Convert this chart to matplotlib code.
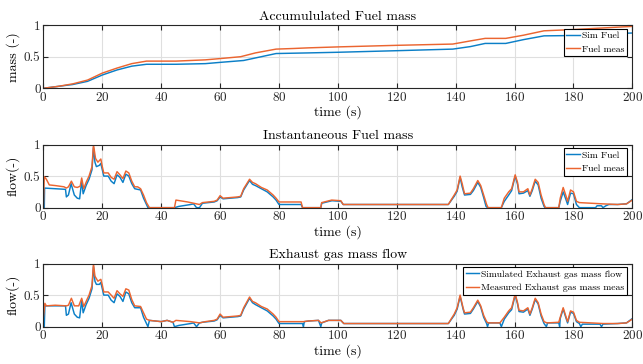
import matplotlib

matplotlib.use("Agg")
import matplotlib.pyplot as plt

# accumulated fuel mass (normalised)
acc_meas_t = [0, 5, 10, 15, 20, 25, 30, 35, 45, 55, 60, 67, 72, 79, 85, 90, 100, 120, 139,
              145, 150, 157, 163, 170, 180, 190, 200]
acc_meas = [0, 0.03, 0.07, 0.13, 0.24, 0.32, 0.39, 0.43, 0.43, 0.45, 0.47, 0.5, 0.56, 0.62,
            0.63, 0.64, 0.655, 0.68, 0.70, 0.75, 0.79, 0.79, 0.84, 0.91, 0.93, 0.955, 0.98]
acc_sim_t = [0, 5, 10, 15, 20, 25, 30, 35, 45, 55, 60, 68, 74, 79, 90, 100, 120, 139,
             145, 150, 157, 163, 170, 180, 190, 200]
acc_sim = [0, 0.03, 0.06, 0.11, 0.21, 0.29, 0.35, 0.38, 0.38, 0.39, 0.41, 0.44, 0.5, 0.55,
           0.56, 0.57, 0.595, 0.62, 0.66, 0.71, 0.71, 0.77, 0.83, 0.835, 0.86, 0.875]

# instantaneous fuel flow (normalised)
fuel_meas_t = [0, 0.3, 1, 2, 4, 7, 7.8, 8.5, 9.5, 10.5, 11.5, 12.5, 13, 13.7, 14.5, 15.5,
               16.5, 17, 17.7, 18.5, 19.5, 20, 20.5, 22, 23, 24, 25, 26, 27, 28, 29, 30,
               31, 32, 33, 34, 35, 36, 44.5, 45, 49, 53, 54, 58, 59, 60, 61, 66, 67, 68,
               70, 71, 72, 74, 76, 78, 79, 80, 87.5, 88, 94.2, 94.5, 97.9, 101, 101.8,
               137.5, 139.5, 140.5, 141.5, 142.2, 143, 145, 146, 147.5, 148.5, 149.5,
               150.5, 151, 155.5, 156.5, 158, 159, 160.2, 161, 161.5, 163, 164.5, 165.2,
               166, 167, 168, 169, 170, 170.5, 175, 175.5, 176.5, 177.5, 178, 179, 180,
               181, 182, 190, 195, 198, 200]
fuel_meas = [0, 0.49, 0.45, 0.36, 0.35, 0.33, 0.31, 0.33, 0.42, 0.33, 0.32, 0.34, 0.47,
             0.30, 0.40, 0.5, 0.65, 1.0, 0.78, 0.72, 0.77, 0.65, 0.55, 0.55, 0.48, 0.45,
             0.57, 0.52, 0.46, 0.58, 0.55, 0.42, 0.33, 0.33, 0.30, 0.20, 0.08, 0, 0, 0.12,
             0.09, 0.05, 0.08, 0.1, 0.12, 0.19, 0.15, 0.17, 0.18, 0.3, 0.45, 0.40, 0.38,
             0.32, 0.28, 0.2, 0.15, 0.09, 0.09, 0, 0, 0.08, 0.12, 0.11, 0.05, 0.05, 0.2,
             0.28, 0.5, 0.38, 0.22, 0.23, 0.3, 0.43, 0.35, 0.2, 0.05, 0, 0, 0.15, 0.25,
             0.3, 0.52, 0.4, 0.25, 0.25, 0.3, 0.2, 0.3, 0.45, 0.4, 0.2, 0.05, 0, 0, 0.15,
             0.32, 0.18, 0.1, 0.28, 0.25, 0.1, 0.08, 0.06, 0.05, 0.06, 0.12]
fuel_sim_t = [0, 0.3, 0.4, 4, 7.5, 7.8, 8.5, 9.4, 10.5, 11.5, 12.3, 13, 13.5, 14.5, 15.5,
              16.5, 17, 17.5, 18, 19, 19.5, 20, 20.5, 22, 23, 24, 25, 26, 27, 28, 29, 30,
              31, 33, 34, 35, 35.5, 44.5, 46, 50, 51, 52, 53, 54, 58, 59, 60, 61, 66, 67,
              68, 70, 71, 72, 74, 76, 78, 79, 80, 87.5, 88, 94.2, 94.5, 98, 101, 101.8,
              137.5, 139.5, 140.5, 141.5, 142.2, 143, 145, 146, 147.5, 148.5, 149.5,
              150.3, 150.8, 155.5, 156.5, 158, 159, 160.2, 161, 161.5, 163, 164.5, 165.2,
              166, 167, 168, 169, 170, 170.3, 175, 175.5, 176.5, 177.5, 178, 179, 180,
              181, 182, 187.5, 188, 189.5, 190, 191, 192, 195, 198, 200]
fuel_sim = [0, 0, 0.31, 0.3, 0.29, 0.17, 0.2, 0.38, 0.2, 0.15, 0.14, 0.42, 0.22, 0.35,
            0.45, 0.6, 0.95, 0.72, 0.65, 0.67, 0.7, 0.6, 0.5, 0.5, 0.42, 0.38, 0.52, 0.48,
            0.4, 0.53, 0.5, 0.38, 0.3, 0.28, 0.15, 0.05, 0, 0, 0.02, 0.05, 0.06, 0, 0,
            0.07, 0.09, 0.11, 0.17, 0.14, 0.16, 0.17, 0.28, 0.43, 0.37, 0.35, 0.3, 0.25,
            0.17, 0.12, 0.05, 0.05, 0, 0, 0.07, 0.11, 0.1, 0.05, 0.05, 0.18, 0.26, 0.48,
            0.33, 0.2, 0.21, 0.27, 0.4, 0.32, 0.16, 0.02, 0, 0, 0.1, 0.2, 0.27, 0.5, 0.37,
            0.22, 0.23, 0.27, 0.18, 0.27, 0.42, 0.36, 0.15, 0.02, 0, 0, 0.1, 0.25, 0.12,
            0.05, 0.23, 0.22, 0.05, 0, 0, 0.03, 0.03, 0, 0.03, 0.05, 0.05, 0.06, 0.13]

# exhaust gas mass flow (normalised)
exh_meas_t = [0, 0.5, 1, 4, 7.8, 8.5, 9.5, 10.5, 12, 13, 13.7, 14.5, 15.5, 16.5, 17,
              17.5, 18.5, 19.5, 20, 20.5, 22, 23, 24, 25, 26, 27, 28, 29, 30, 31, 33, 34,
              35, 36, 38, 40, 42, 44, 45, 50, 53, 55, 58, 59, 60, 61, 66, 67, 68, 70, 71,
              72, 74, 76, 78, 79, 80, 84, 88.3, 90, 93.4, 94.3, 96.8, 101, 102, 137.5,
              139.5, 140.5, 141.5, 142.5, 143, 145, 146, 147.5, 148.5, 149.5, 150.5, 151,
              155, 156.5, 158, 159, 160.2, 161, 161.5, 163, 164.5, 165.2, 166, 167, 168,
              169, 170, 171, 175, 175.5, 176.5, 177.5, 178, 179, 180, 181, 182, 190, 195,
              198, 200]
exh_meas = [0.15, 0.37, 0.33, 0.34, 0.33, 0.34, 0.45, 0.33, 0.33, 0.45, 0.32, 0.4, 0.5,
            0.65, 1.0, 0.8, 0.72, 0.75, 0.66, 0.55, 0.55, 0.5, 0.45, 0.57, 0.52, 0.48,
            0.6, 0.58, 0.43, 0.33, 0.32, 0.22, 0.12, 0.1, 0.09, 0.08, 0.1, 0.07, 0.1,
            0.08, 0.06, 0.08, 0.1, 0.12, 0.2, 0.15, 0.17, 0.18, 0.3, 0.47, 0.4, 0.38,
            0.32, 0.28, 0.2, 0.15, 0.08, 0.08, 0.08, 0.09, 0.1, 0.06, 0.1, 0.1, 0.05,
            0.05, 0.2, 0.3, 0.5, 0.3, 0.22, 0.23, 0.3, 0.42, 0.33, 0.18, 0.08, 0.06,
            0.06, 0.15, 0.25, 0.3, 0.52, 0.38, 0.26, 0.25, 0.3, 0.2, 0.3, 0.45, 0.38,
            0.2, 0.08, 0.06, 0.07, 0.15, 0.3, 0.15, 0.08, 0.25, 0.23, 0.1, 0.07, 0.05,
            0.05, 0.06, 0.12]
exh_sim_t = [0, 0.3, 0.5, 7.5, 7.8, 8.5, 9.4, 10.5, 11.5, 12.3, 13, 13.5, 14.5, 15.5,
             16.5, 17, 17.5, 18, 19, 19.5, 20, 20.5, 22, 23, 24, 25, 26, 27, 28, 29, 30,
             31, 33, 34, 35, 35.5, 36, 38, 40, 42, 44, 44.5, 46, 50, 51, 52, 53, 54, 58,
             59, 60, 61, 66, 67, 68, 70, 71, 72, 74, 76, 78, 79, 80, 88, 88.3, 88.6, 90,
             93.4, 94.2, 94.5, 96.8, 101, 102, 137.5, 139.5, 140.5, 141.5, 142.5, 143,
             145, 146, 147.5, 148.5, 149.5, 150.5, 150.8, 151.2, 155, 155.5, 156, 156.5,
             158, 159, 160.2, 161, 161.5, 163, 164.5, 165.2, 166, 167, 168, 169, 170,
             170.8, 171.2, 175, 175.3, 175.5, 176.5, 177.5, 178, 179, 180, 181, 182,
             182.5, 183, 189, 189.5, 190, 195, 198, 200]
exh_sim = [0, 0, 0.33, 0.33, 0.18, 0.2, 0.38, 0.2, 0.15, 0.14, 0.42, 0.22, 0.35, 0.45,
           0.6, 0.95, 0.72, 0.67, 0.67, 0.7, 0.6, 0.5, 0.5, 0.42, 0.38, 0.52, 0.48, 0.4,
           0.55, 0.52, 0.38, 0.3, 0.3, 0.15, 0.05, 0, 0.1, 0.09, 0.08, 0.1, 0.07, 0,
           0.02, 0.05, 0.06, 0, 0.06, 0.07, 0.09, 0.11, 0.18, 0.14, 0.16, 0.17, 0.28,
           0.45, 0.38, 0.35, 0.3, 0.25, 0.17, 0.12, 0.05, 0.05, 0, 0.08, 0.09, 0.1, 0,
           0.06, 0.1, 0.1, 0.05, 0.05, 0.18, 0.28, 0.48, 0.28, 0.2, 0.21, 0.28, 0.4,
           0.31, 0.15, 0.05, 0, 0.06, 0.06, 0, 0.06, 0.12, 0.22, 0.27, 0.5, 0.36, 0.24,
           0.23, 0.28, 0.18, 0.28, 0.43, 0.36, 0.17, 0.05, 0, 0.06, 0.06, 0, 0.13, 0.28,
           0.13, 0.06, 0.23, 0.21, 0.08, 0.05, 0, 0.04, 0.04, 0, 0.04, 0.05, 0.06, 0.13]

x_ticks = list(range(0, 201, 20))
y_ticks = [0, 0.5, 1]
y_tick_labels = ["0", "0.5", "1"]

BLUE = "#0B7FC7"
ORANGE = "#EB6530"

plt.rcParams["font.family"] = "cmr10"
plt.rcParams["axes.formatter.use_mathtext"] = True
plt.rcParams["mathtext.fontset"] = "cm"

PANELS = [
    ("Accumululated Fuel mass", "mass (-)", acc_sim_t, acc_sim, acc_meas_t, acc_meas,
     "Sim Fuel", "Fuel meas", 0.7575),
    ("Instantaneous Fuel mass", "flow(-)", fuel_sim_t, fuel_sim, fuel_meas_t, fuel_meas,
     "Sim Fuel", "Fuel meas", 0.4295),
    ("Exhaust gas mass flow", "flow(-)", exh_sim_t, exh_sim, exh_meas_t, exh_meas,
     "Simulated Exhaust gas mass flow", "Measured Exhaust gas mass meas", 0.1025),
]

fig = plt.figure(figsize=(6.43, 3.64), dpi=100)
for title, ylabel, st, sv, mt, mv, sim_lbl, meas_lbl, bottom in PANELS:
    assert len(st) == len(sv) and len(mt) == len(mv), title
    ax = fig.add_axes([0.0675, bottom, 0.916, 0.1735])
    ax.plot(st, sv, color=BLUE, lw=1.05, label=sim_lbl)
    ax.plot(mt, mv, color=ORANGE, lw=1.05, label=meas_lbl)
    ax.set_xlim(0, 200)
    ax.set_ylim(0, 1)
    ax.set_xticks(x_ticks)
    ax.set_yticks(y_ticks)
    ax.set_yticklabels(y_tick_labels)
    ax.grid(True, color="#dfdfdf", lw=0.8)
    ax.set_axisbelow(True)
    ax.tick_params(direction="in", top=True, right=True, length=3.5, width=0.8,
                   labelsize=9.5, pad=2, colors="#262626")
    for sp in ax.spines.values():
        sp.set_color("#262626")
        sp.set_linewidth(0.8)
    ax.set_title(title, fontsize=10, pad=4)
    ax.set_xlabel("time (s)", fontsize=10, labelpad=1)
    ax.set_ylabel(ylabel, fontsize=10, labelpad=3)
    # legend box sits a few pixels inside the top-right corner
    leg = ax.legend(loc="upper right", bbox_to_anchor=(1 - 5 / 590, 1 - 3.5 / 63),
                    borderaxespad=0, fontsize=7, fancybox=False, framealpha=1,
                    edgecolor="black", borderpad=0.3, handlelength=1.4,
                    handletextpad=0.2, labelspacing=0.45)
    leg.get_frame().set_linewidth(0.8)

fig.savefig("out.png", dpi=100)
